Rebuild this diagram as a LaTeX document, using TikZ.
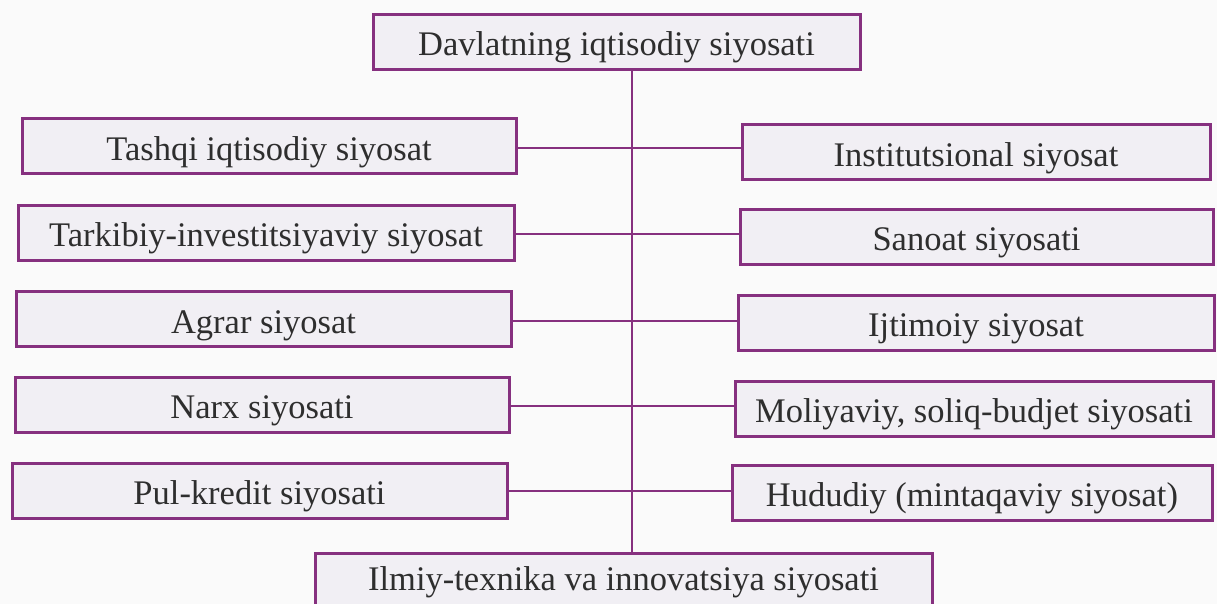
\documentclass[tikz,border=0pt]{standalone}
\usepackage{fontspec}
\setmainfont{Liberation Serif}
\definecolor{bord}{HTML}{86307F}
\definecolor{boxfill}{HTML}{F1EFF4}
\definecolor{txt}{HTML}{2E2E2E}
\definecolor{paper}{HTML}{FAFAFA}
\begin{document}
\begin{tikzpicture}[x=1pt,y=-1pt,
  box/.style={draw=bord, line width=3pt, fill=boxfill, text=txt,
    font=\fontsize{34.5}{40}\selectfont, inner sep=0pt, minimum height=55pt,
    text height=30pt, text depth=2pt},
  link/.style={draw=bord, line width=2.6pt}]
\useasboundingbox (0,0) rectangle (1217,604);
\fill[paper] (0,0) rectangle (1217,604);
\clip (0,0) rectangle (1217,604);
% top and bottom
\node[box, minimum width=487pt] (top) at (616.5,42) {Davlatning iqtisodiy siyosati};
\node[box, minimum width=617pt, minimum height=56pt, text depth=12pt] (bot) at (623.5,581) {Ilmiy-texnika va innovatsiya siyosati};
% left column
\node[box, minimum width=494pt] (l1) at (269,146.5) {Tashqi iqtisodiy siyosat};
\node[box, minimum width=496pt] (l2) at (266,232.5) {Tarkibiy-investitsiyaviy siyosat};
\node[box, minimum width=495pt] (l3) at (263.5,319) {Agrar siyosat};
\node[box, minimum width=494pt] (l4) at (262,404.5) {Narx siyosati};
\node[box, minimum width=495pt] (l5) at (259.5,490.5) {Pul-kredit siyosati};
% right column
\node[box, minimum width=468pt] (r1) at (976,152.5) {Institutsional siyosat};
\node[box, minimum width=473pt] (r2) at (976.5,236.5) {Sanoat siyosati};
\node[box, minimum width=476pt] (r3) at (976,322.5) {Ijtimoiy siyosat};
\node[box, minimum width=478pt] (r4) at (974,408.5) {Moliyaviy, soliq-budjet siyosati};
\node[box, minimum width=480pt] (r5) at (972,492.5) {Hududiy (mintaqaviy siyosat)};
% trunk
\coordinate (trunk) at (632,0);
\draw[link] (top.south -| trunk) -- (bot.north -| trunk);
\foreach \i/\yy in {1/148,2/234,3/321,4/406,5/491}{
  \draw[link] (l\i.east |- 0,\yy) -- (r\i.west |- 0,\yy);
}
\end{tikzpicture}
\end{document}
